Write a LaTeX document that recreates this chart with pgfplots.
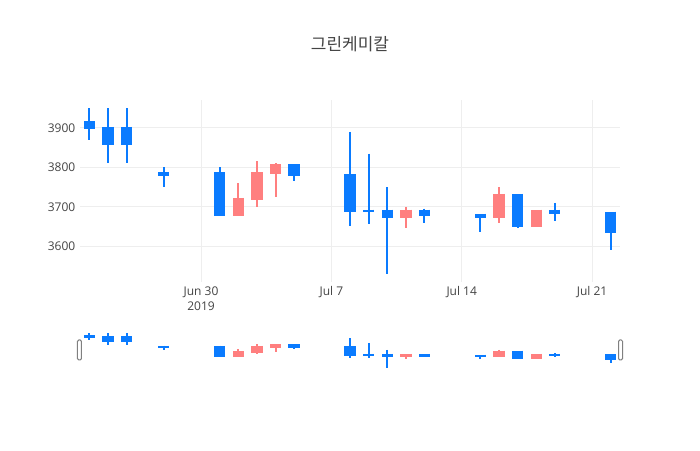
\documentclass[border=0pt]{standalone}
\usepackage{pgfplots}
\pgfplotsset{compat=1.18}
\usepackage{pgfplotstable}
\usepackage{fontspec}
\setmainfont{Open Sans}
\newfontfamily\krfont{Noto Sans CJK KR}

\definecolor{up}{HTML}{FF7F7F}
\definecolor{dn}{HTML}{0A7BFF}
\definecolor{txt}{HTML}{444444}
\definecolor{gridc}{HTML}{EEEEEE}

% d = days after 30 Jun 2019
\pgfplotstableread{
d  open high low  close
2  3680 3760 3680 3720
3  3720 3815 3700 3785
4  3785 3810 3725 3805
11 3675 3700 3645 3690
16 3675 3750 3660 3730
18 3650 3690 3650 3690
}\uptab

\pgfplotstableread{
d  open high low  close
-6 3915 3950 3870 3900
-5 3900 3950 3810 3860
-4 3900 3950 3810 3860
-2 3785 3800 3750 3780
1  3785 3800 3680 3680
5  3805 3805 3765 3780
8  3780 3890 3650 3690
9  3690 3835 3655 3690
10 3690 3750 3530 3675
12 3690 3695 3660 3680
15 3680 3680 3635 3675
17 3730 3730 3645 3650
19 3690 3710 3665 3685
22 3685 3685 3590 3635
}\dntab

% #1 = one pixel in y units (body outline)
\newcommand\candles[1]{%
  \addplot[draw=none, mark=none, error bars/.cd, y dir=minus, y explicit,
    error mark=none, error bar style={draw=up, line width=1.5pt}]
    table[x=d, y=high, y error expr=\thisrow{high}-\thisrow{low}] {\uptab};
  \addplot[draw=none, mark=none, error bars/.cd, y dir=minus, y explicit,
    error mark=none, error bar style={draw=up, line width=8.5pt}]
    table[x=d, y expr=\thisrow{close}+#1, y error expr=\thisrow{close}-\thisrow{open}+2*#1] {\uptab};
  \addplot[draw=none, mark=none, error bars/.cd, y dir=minus, y explicit,
    error mark=none, error bar style={draw=dn, line width=1.5pt}]
    table[x=d, y=high, y error expr=\thisrow{high}-\thisrow{low}] {\dntab};
  \addplot[draw=none, mark=none, error bars/.cd, y dir=minus, y explicit,
    error mark=none, error bar style={draw=dn, line width=8.5pt}]
    table[x=d, y expr=\thisrow{open}+#1, y error expr=\thisrow{open}-\thisrow{close}+2*#1] {\dntab};
}

\begin{document}
\begin{tikzpicture}
\useasboundingbox (0,0) rectangle (525pt,337.5pt);
\fill[white] (0,0) rectangle (525pt,337.5pt);

\node[text=txt, font=\krfont\fontsize{12.75}{15}\selectfont] at (262.5pt,304.5pt) {그린케미칼};

\begin{axis}[
  at={(60pt,126pt)}, anchor=south west,
  scale only axis, width=405pt, height=136.5pt,
  xmin=-6.5, xmax=22.5, ymin=3509, ymax=3971,
  axis line style={draw=none}, major tick length=0pt,
  xtick={0,7,14,21},
  xticklabels={{Jun 30\\2019},{Jul 7},{Jul 14},{Jul 21}},
  ytick={3600,3700,3800,3900},
  grid=major, grid style={draw=gridc, line width=0.75pt},
  tick label style={font=\fontsize{9}{11.25}\selectfont, text=txt,
    /pgf/number format/assume math mode=true},
  x tick label style={align=center},
  y tick label style={/pgf/number format/1000 sep={}},
  clip=false,
]
\candles{2.55}
\end{axis}

\begin{axis}[
  at={(60pt,60pt)}, anchor=south west,
  scale only axis, width=405pt, height=28.875pt,
  xmin=-6.5, xmax=22.5, ymin=3509, ymax=3971,
  hide axis, clip=false,
]
\candles{12}
\end{axis}

% range slider grabbers
\draw[draw=gray, fill=white, line width=0.75pt, rounded corners=1pt]
  (58.1pt,67.5pt) rectangle (61.1pt,82.5pt);
\draw[draw=gray, fill=white, line width=0.75pt, rounded corners=1pt]
  (463.9pt,67.5pt) rectangle (466.9pt,82.5pt);
\end{tikzpicture}
\end{document}
